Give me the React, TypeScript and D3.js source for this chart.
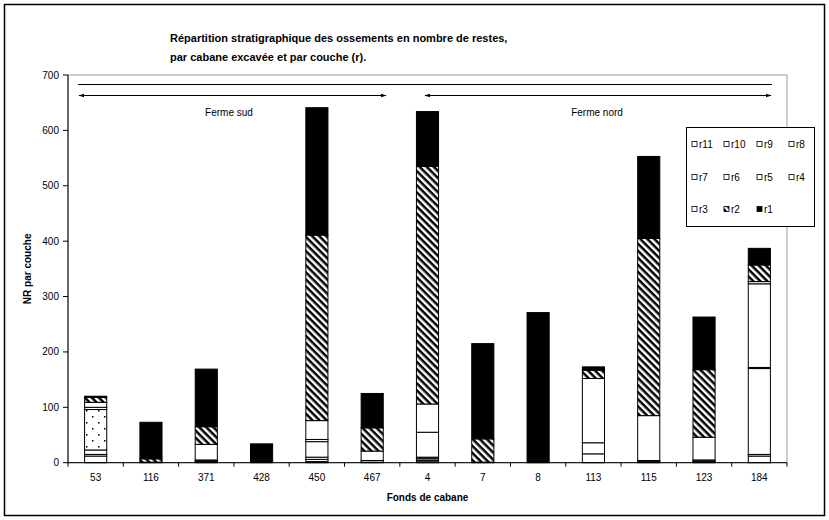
import React from "react";
import * as d3 from "d3";

const categories = ["53", "116", "371", "428", "450", "467", "4", "7", "8", "113", "115", "123", "184"];
const layerNames = ["r11", "r10", "r9", "r8", "r7", "r6", "r5", "r4", "r3", "r2", "r1"];
// values per category, each array indexed like categories
const r1 = [2, 66, 104, 34, 230, 62, 99, 172, 271, 6, 148, 95, 30];
const r2 = [9, 6, 32, 0, 335, 42, 429, 42, 0, 15, 320, 122, 30];
const r3 = [9, 1, 28, 0, 34, 17, 51, 1, 0, 116, 81, 41, 4];
const r4 = [4, 0, 2, 0, 4, 3, 45, 0, 0, 20, 2, 2, 151];
const r5 = [73, 0, 0, 0, 0, 0, 0, 0, 0, 0, 0, 0, 0];
const r6 = [8, 0, 1, 0, 28, 1, 2, 0, 0, 16, 2, 2, 2];
const r7 = [3, 0, 2, 0, 4, 0, 3, 0, 0, 0, 0, 1, 155];
const r8 = [12, 0, 0, 0, 4, 0, 2, 0, 0, 0, 0, 0, 3];
const r9 = [0, 0, 0, 0, 2, 0, 3, 0, 0, 0, 0, 0, 12];
const r10 = [0, 0, 0, 0, 0, 0, 0, 0, 0, 0, 0, 0, 0];
const r11 = [0, 0, 0, 0, 0, 0, 0, 0, 0, 0, 0, 0, 0];
const yTicks = [0, 100, 200, 300, 400, 500, 600, 700];
const titleLines = ["Répartition stratigraphique des ossements en nombre de restes,", "par cabane excavée et par couche (r)."];
const legendOrder = ["r11", "r10", "r9", "r8", "r7", "r6", "r5", "r4", "r3", "r2", "r1"];

const layerValues: Record<string, number[]> = { r1, r2, r3, r4, r5, r6, r7, r8, r9, r10, r11 };

const fillFor = (name: string) => {
  if (name === "r1") return "#000";
  if (name === "r2") return "url(#hatch)";
  if (name === "r5") return "url(#dots)";
  return "#fff";
};

export default function App() {
  const W = 829, H = 520;
  const left = 68, right = 787, top = 75, bottom = 462.7;
  const x = d3.scaleBand<string>().domain(categories).range([left, right]).paddingInner(0.6).paddingOuter(0.3);
  const xb = d3.scaleBand<string>().domain(categories).range([left, right]);
  const y = d3.scaleLinear().domain([0, 700]).range([bottom, top]);

  const table = categories.map((c, i) => {
    const row: any = { cat: c };
    layerNames.forEach((n) => (row[n] = layerValues[n][i]));
    return row;
  });
  const stack = d3.stack<any>().keys(layerNames)(table);

  const font = "Liberation Sans, Arial, sans-serif";
  const legendCols = [692, 724, 757, 789];
  const legendRows = [144, 177, 209];

  return (
    <svg width={W} height={H} style={{ position: "absolute", left: 0, top: 0, background: "#fff" }} fontFamily={font}>
      <defs>
        <pattern id="hatch" patternUnits="userSpaceOnUse" width={8} height={5} patternTransform="rotate(45)">
          <rect width={8} height={5} fill="#fff" />
          <rect width={8} height={2.5} fill="#000" />
        </pattern>
        <pattern id="dots" patternUnits="userSpaceOnUse" width={12} height={12}>
          <rect width={12} height={12} fill="#fff" />
          <rect x={2} y={2} width={1.5} height={1.5} fill="#000" />
          <rect x={8} y={8} width={1.5} height={1.5} fill="#000" />
        </pattern>
        <marker id="arr" viewBox="0 0 10 10" refX={9} refY={5} markerWidth={6} markerHeight={6} orient="auto-start-reverse">
          <path d="M0,2 L10,5 L0,8 z" fill="#000" />
        </marker>
      </defs>
      <rect x={0} y={0} width={W} height={H} fill="#fff" />
      <rect x={4.5} y={4.5} width={820} height={511} fill="none" stroke="#000" strokeWidth={1.5} />

      {titleLines.map((t, i) => (
        <text key={t} x={170} y={42 + i * 19} fontSize={11} fontWeight="bold" fill="#000">{t}</text>
      ))}

      {/* plot area border */}
      <rect x={left} y={top} width={right - left} height={bottom - top} fill="none" stroke="#a0a0a0" strokeWidth={1} />

      {/* annotations */}
      <line x1={78} x2={772} y1={84.5} y2={84.5} stroke="#000" strokeWidth={1} />
      <line x1={79} x2={386} y1={95.5} y2={95.5} stroke="#000" strokeWidth={1} markerStart="url(#arr)" markerEnd="url(#arr)" />
      <line x1={425} x2={771} y1={95.5} y2={95.5} stroke="#000" strokeWidth={1} markerStart="url(#arr)" markerEnd="url(#arr)" />
      <text x={229} y={116} fontSize={10} textAnchor="middle">Ferme sud</text>
      <text x={597} y={116} fontSize={10} textAnchor="middle">Ferme nord</text>

      {/* bars */}
      {stack.map((s) => (
        <g key={s.key}>
          {s.map((d, i) => {
            const v = d[1] - d[0];
            if (v <= 0) return null;
            return (
              <rect
                key={i}
                x={x(categories[i])!}
                y={y(d[1])}
                width={x.bandwidth()}
                height={y(d[0]) - y(d[1])}
                fill={fillFor(s.key)}
                stroke="#000"
                strokeWidth={1}
              />
            );
          })}
        </g>
      ))}

      {/* y axis */}
      <line x1={left} x2={left} y1={top} y2={bottom} stroke="#000" />
      {yTicks.map((t) => (
        <g key={t}>
          <line x1={left - 5} x2={left} y1={y(t)} y2={y(t)} stroke="#000" />
          <text x={left - 9} y={y(t) + 3.5} fontSize={10} textAnchor="end">{t}</text>
        </g>
      ))}
      <text transform={`translate(31,${(top + bottom) / 2}) rotate(-90)`} fontSize={10} fontWeight="bold" textAnchor="middle">NR par couche</text>

      {/* x axis */}
      <line x1={left} x2={right} y1={bottom} y2={bottom} stroke="#000" />
      {categories.map((c) => (
        <g key={c}>
          <line x1={xb(c)! + xb.bandwidth()} x2={xb(c)! + xb.bandwidth()} y1={bottom} y2={bottom + 4} stroke="#000" />
          <text x={xb(c)! + xb.bandwidth() / 2} y={481} fontSize={10} textAnchor="middle">{c}</text>
        </g>
      ))}
      <line x1={left} x2={left} y1={bottom} y2={bottom + 4} stroke="#000" />
      <text x={(left + right) / 2} y={501} fontSize={10} fontWeight="bold" textAnchor="middle">Fonds de cabane</text>

      {/* legend */}
      <rect x={686.5} y={127.5} width={128} height={99} fill="#fff" stroke="#000" />
      {legendOrder.map((n, i) => {
        const cx = legendCols[i % 4];
        const cy = legendRows[Math.floor(i / 4)];
        return (
          <g key={n}>
            <rect x={cx} y={cy - 2.5} width={5} height={5} fill={n === "r5" ? "#fff" : fillFor(n)} stroke="#000" strokeWidth={0.8} />
            <text x={cx + 7} y={cy + 3.5} fontSize={10}>{n}</text>
          </g>
        );
      })}
    </svg>
  );
}
